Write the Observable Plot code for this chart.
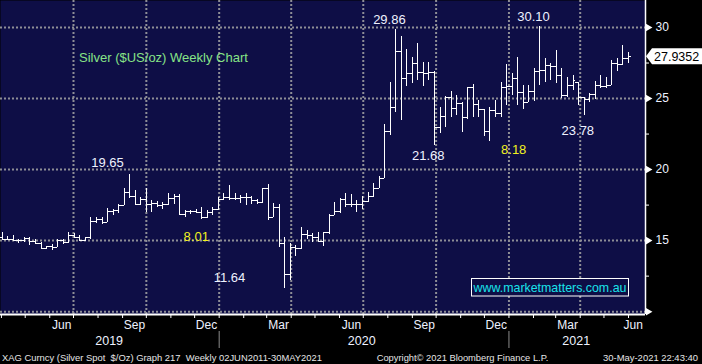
<!DOCTYPE html>
<html><head><meta charset="utf-8">
<script src="https://cdn.jsdelivr.net/npm/d3@7"></script>
<script src="https://cdn.jsdelivr.net/npm/@observablehq/plot@0.6"></script>
<style>
html,body{margin:0;padding:0;background:#000;}
#wrap{position:relative;width:702px;height:364px;overflow:hidden;background:#000;}
#wrap svg{display:block;}
</style></head><body><div id="wrap"></div>
<script>
// ---- data: weekly silver spot bars (week ending Friday) ----
const weeks = [
"2019-03-29","2019-04-05","2019-04-12","2019-04-19","2019-04-26","2019-05-03","2019-05-10","2019-05-17","2019-05-24","2019-05-31",
"2019-06-07","2019-06-14","2019-06-21","2019-06-28","2019-07-05","2019-07-12","2019-07-19","2019-07-26","2019-08-02","2019-08-09",
"2019-08-16","2019-08-23","2019-08-30","2019-09-06","2019-09-13","2019-09-20","2019-09-27","2019-10-04","2019-10-11","2019-10-18",
"2019-10-25","2019-11-01","2019-11-08","2019-11-15","2019-11-22","2019-11-29","2019-12-06","2019-12-13","2019-12-20","2019-12-27",
"2020-01-03","2020-01-10","2020-01-17","2020-01-24","2020-01-31","2020-02-07","2020-02-14","2020-02-21","2020-02-28","2020-03-06",
"2020-03-13","2020-03-20","2020-03-27","2020-04-03","2020-04-10","2020-04-17","2020-04-24","2020-05-01","2020-05-08","2020-05-15",
"2020-05-22","2020-05-29","2020-06-05","2020-06-12","2020-06-19","2020-06-26","2020-07-03","2020-07-10","2020-07-17","2020-07-24",
"2020-07-31","2020-08-07","2020-08-14","2020-08-21","2020-08-28","2020-09-04","2020-09-11","2020-09-18","2020-09-25","2020-10-02",
"2020-10-09","2020-10-16","2020-10-23","2020-10-30","2020-11-06","2020-11-13","2020-11-20","2020-11-27","2020-12-04","2020-12-11",
"2020-12-18","2020-12-25","2021-01-01","2021-01-08","2021-01-15","2021-01-22","2021-01-29","2021-02-05","2021-02-12","2021-02-19",
"2021-02-26","2021-03-05","2021-03-12","2021-03-19","2021-03-26","2021-04-02","2021-04-09","2021-04-16","2021-04-23","2021-04-30",
"2021-05-07","2021-05-14","2021-05-21","2021-05-28"];
const open = [
15.25,15.10,15.10,15.00,14.98,15.15,14.95,14.78,14.42,14.58,
14.55,14.98,14.85,15.33,15.25,15.00,15.20,16.35,16.47,16.30,
17.02,17.14,17.48,18.37,18.14,17.57,17.88,17.51,17.58,17.49,
17.52,17.93,18.11,16.81,17.03,17.02,16.98,16.60,17.00,17.16,
17.92,18.06,17.97,17.98,18.05,18.03,17.80,17.68,18.64,16.65,
17.30,14.80,12.65,14.50,14.45,15.45,15.35,15.23,14.97,15.55,
16.80,17.08,17.90,17.55,17.53,17.55,17.77,18.09,18.66,19.40,
22.70,24.40,28.30,26.40,26.75,27.45,26.80,26.75,26.85,22.95,
23.75,25.05,24.30,24.65,23.70,25.75,24.60,24.20,22.65,24.15,
23.95,25.80,25.85,26.40,25.40,24.75,25.50,26.90,26.95,27.35,
27.25,26.60,25.20,25.95,26.10,25.05,24.95,25.25,25.90,25.85,
25.95,27.45,27.40,27.85];
const high = [
15.55,15.30,15.35,15.10,15.20,15.20,15.05,14.90,14.62,14.70,
15.05,15.05,15.55,15.50,15.35,15.25,16.60,16.65,16.60,17.25,
17.20,17.55,18.65,19.65,18.50,18.05,18.65,17.80,17.75,17.70,
18.30,18.25,18.25,17.10,17.15,17.20,17.35,17.10,17.30,18.05,
18.30,18.90,18.30,18.20,18.30,18.10,17.90,18.65,18.94,17.60,
17.55,15.25,14.80,14.65,15.95,15.70,15.50,15.60,15.60,16.85,
17.70,17.95,18.35,18.25,17.85,18.10,18.40,19.03,19.50,23.20,
26.15,29.86,29.40,28.45,27.90,28.85,27.55,27.55,26.90,24.37,
25.14,25.50,25.20,24.70,25.80,26.00,24.86,24.25,24.40,24.86,
26.10,27.40,26.76,27.90,25.90,25.90,27.10,30.10,27.80,27.45,
28.40,27.10,26.50,26.60,26.15,25.10,25.35,26.20,26.60,26.50,
27.70,27.80,28.70,28.27];
const low = [
15.00,15.02,14.95,14.80,14.85,14.65,14.75,14.40,14.35,14.30,
14.50,14.70,14.80,15.15,14.95,14.95,15.10,16.20,16.10,16.25,
16.80,16.90,17.45,17.95,17.45,17.50,16.97,16.97,17.30,17.20,
17.45,17.55,16.75,16.65,16.85,16.90,16.50,16.55,16.80,17.15,
17.80,17.80,17.80,17.60,17.45,17.55,17.55,17.60,16.45,16.60,
14.50,11.64,12.20,13.90,14.40,15.10,14.90,14.85,14.60,15.45,
16.76,16.92,17.35,17.35,17.00,17.16,17.70,18.05,18.65,19.35,
22.40,24.00,23.45,25.85,26.05,26.25,25.87,26.25,21.68,22.54,
22.96,23.66,23.80,22.60,23.50,23.66,23.70,22.30,22.00,23.66,
23.70,24.50,25.20,24.50,24.20,24.70,24.80,25.90,26.10,26.30,
26.05,25.00,25.10,25.55,24.50,23.78,24.75,24.90,25.70,25.70,
25.90,26.90,27.30,27.45];
const close = [
15.10,15.10,15.00,14.98,15.15,14.95,14.78,14.42,14.58,14.55,
14.98,14.85,15.33,15.25,15.00,15.20,16.35,16.47,16.30,17.02,
17.14,17.48,18.37,18.14,17.57,17.88,17.51,17.58,17.49,17.52,
17.93,18.11,16.81,17.03,17.02,16.98,16.60,17.00,17.16,17.92,
18.06,17.97,17.98,18.05,18.03,17.80,17.68,18.64,16.65,17.30,
14.80,12.65,14.50,14.45,15.45,15.35,15.23,14.97,15.55,16.80,
17.08,17.90,17.55,17.53,17.55,17.77,18.09,18.66,19.40,22.70,
24.40,28.30,26.40,26.75,27.45,26.80,26.75,26.85,22.95,23.75,
25.05,24.30,24.65,23.70,25.75,24.60,24.20,22.65,24.15,23.95,
25.80,25.85,26.40,25.40,24.75,25.50,26.90,26.95,27.35,27.25,
26.60,25.20,25.95,26.30,25.05,24.95,25.25,25.90,25.85,25.95,
27.45,27.40,27.85,27.9352];
const lastPrice = 27.9352;

// ---- axis ticks and labels ----
const priceGrid = [10, 15, 20, 25, 30];
const priceLabels = ["15", "20", "25", "30"];
const priceMinor = [12.5, 17.5, 22.5, 27.5];
const gridDates = ["2019-07-01","2019-10-01","2020-01-01","2020-04-01","2020-07-01","2020-10-01","2021-01-01","2021-04-01"];
const monthLabelDates = ["2019-06-16","2019-09-16","2019-12-16","2020-03-16","2020-06-16","2020-09-16","2020-12-16","2021-03-16","2021-06-07"];
const monthLabelText = ["Jun","Sep","Dec","Mar","Jun","Sep","Dec","Mar","Jun"];
const yearLabelDates = ["2019-08-15","2020-06-29","2021-03-27"];
const yearLabelText = ["2019","2020","2021"];
const yearBreaks = ["2020-01-01","2021-01-01"];

// ---- annotations ----
const titleText = "Silver ($US/oz) Weekly Chart";
const titleDate = "2019-07-08", titlePrice = 27.9;
const noteText  = ["19.65","8.01","11.64","29.86","21.68","8.18","30.10","23.78"];
const noteDates = ["2019-08-13","2019-12-03","2020-01-14","2020-08-03","2020-09-21","2021-01-07","2021-02-01","2021-03-29"];
const notePrice = [20.5, 15.29, 12.4, 30.56, 20.99, 21.41, 30.77, 22.75];
const noteKind  = ["white","yellow","white","white","white","yellow","white","white"];

// ---- build ----
const NAVY = "#0e0e46", GRID = "#8e8e96", TXT = "#eef2ff";
const FONT = "Liberation Sans, Arial, sans-serif";
const W = 702, H = 350, plotRight = 645, plotBottom = 314;
const yMin = 9.8, yMax = 31.9;
const pxPerUnit = plotBottom / (yMax - yMin);
const u = px => px / pxPerUnit;
const cal = d3.scaleUtc().domain([new Date("2019-07-01"), new Date("2021-06-01")]).range([73, 628]);
const xEnd = cal.invert(plotRight);
const xMinorEnd = cal.invert(plotRight + 4);

const bars = weeks.map((w, i) => ({date: new Date(w), open: open[i], high: high[i], low: low[i], close: close[i]}));
const shown = d => d3.utcDay.offset(d.date, 4); // Bloomberg draws each week's bar just after its Friday
const monthTicks = d3.utcMonth.range(new Date("2019-04-01"), new Date("2021-06-02"));
const monthLabels = monthLabelDates.map((d, i) => ({date: new Date(d), text: monthLabelText[i]}));
const yearLabels = yearLabelDates.map((d, i) => ({date: new Date(d), text: yearLabelText[i]}));
const notes = noteText.map((t, i) => ({text: t, date: new Date(noteDates[i]), price: notePrice[i], kind: noteKind[i]}));
const noteColor = {white: TXT, yellow: "#f2f21e"};

const chart = Plot.plot({
  width: W, height: H,
  marginLeft: 0, marginRight: W - plotRight, marginTop: 0, marginBottom: H - plotBottom,
  style: {background: "transparent", fontFamily: FONT, overflow: "visible"},
  x: {type: "utc", domain: cal.domain(), range: cal.range(), axis: null},
  y: {domain: [yMin, yMax], axis: null},
  marks: [
    Plot.frame({fill: NAVY, stroke: null}),
    Plot.ruleY(priceGrid, {stroke: GRID, strokeWidth: 2, strokeDasharray: "2,2"}),
    Plot.ruleX(gridDates.map(d => new Date(d)), {stroke: GRID, strokeWidth: 2, strokeDasharray: "2,2"}),
    // OHLC bars
    Plot.ruleX(bars, {x: shown, y1: "low", y2: "high", stroke: "white", strokeWidth: 1, shapeRendering: "crispEdges"}),
    Plot.ruleY(bars, {x1: d => d3.utcHour.offset(shown(d), -84), x2: shown, y: "open", stroke: "white", strokeWidth: 1, shapeRendering: "crispEdges"}),
    Plot.ruleY(bars, {x1: shown, x2: d => d3.utcHour.offset(shown(d), 84), y: "close", stroke: "white", strokeWidth: 1, shapeRendering: "crispEdges"}),
    // axes
    Plot.ruleY([yMin], {stroke: "white", strokeWidth: 2}),
    Plot.ruleX([xEnd], {stroke: "white", strokeWidth: 1.5}),
    Plot.ruleX(monthTicks, {y1: yMin, y2: yMin - u(4), stroke: "white", strokeWidth: 1}),
    Plot.ruleX(yearBreaks.map(d => new Date(d)), {y1: yMin - u(17), y2: yMin - u(34), stroke: "#8c8c8c", strokeWidth: 1}),
    Plot.text(monthLabels, {x: "date", y: () => yMin, dy: 11, text: "text", fill: TXT, fontSize: 12}),
    Plot.text(yearLabels, {x: "date", y: () => yMin, dy: 26, text: "text", fill: TXT, fontSize: 12.5}),
    Plot.ruleY(priceMinor, {x1: () => xEnd, x2: () => xMinorEnd, stroke: "white", strokeWidth: 1}),
    Plot.dot(priceGrid, {x: () => xEnd, y: d => d, symbol: "triangle", rotate: 90, r: 2.8, fill: "white", stroke: null, dx: 2.6}),
    Plot.text(priceLabels, {x: () => xEnd, y: d => +d, text: d => d, dx: 10, textAnchor: "start", fill: TXT, fontSize: 12}),
    // annotations
    Plot.text([titleText], {x: () => new Date(titleDate), y: () => titlePrice, text: d => d, fill: "#86e486", textAnchor: "start", fontSize: 13}),
    Plot.text(notes, {x: "date", y: "price", text: "text", fill: d => noteColor[d.kind], textAnchor: "middle", fontSize: 13})
  ]
});

const svg = d3.select(chart);
// last price tag
const ys = chart.scale("y").apply(lastPrice);
const g = svg.append("g").attr("text-anchor", "start");
g.append("path").attr("d", `M646,${ys} L652,${ys - 8} H702 V${ys + 8} H652 Z`).attr("fill", "white");
g.append("text").attr("x", 654).attr("y", ys).attr("dy", "0.36em").attr("font-size", 12.5)
  .attr("text-anchor", "start").attr("font-family", FONT).attr("fill", "#000").text(lastPrice.toFixed(4));
// website box
const wm = svg.append("g");
wm.append("rect").attr("x", 471.5).attr("y", 278.5).attr("width", 157).attr("height", 17.5)
  .attr("fill", NAVY).attr("stroke", "white").attr("stroke-width", 1);
wm.append("text").attr("x", 550).attr("y", 287.5).attr("dy", "0.36em").attr("text-anchor", "middle")
  .attr("font-size", 12.4).attr("font-family", FONT).attr("fill", "#19e3ea").text("www.marketmatters.com.au");

document.getElementById("wrap").appendChild(chart);

// footer
const footer = d3.select("#wrap").append("svg").attr("width", W).attr("height", 14)
  .style("font-family", FONT).style("font-size", "9.5px");
const foot = [
  {x: 2, len: 320, t: "XAG Curncy (Silver Spot  $/Oz) Graph 217  Weekly 02JUN2011-30MAY2021"},
  {x: 376.7, len: 171.6, t: "Copyright\u00A9 2021 Bloomberg Finance L.P."},
  {x: 603, len: 95, t: "30-May-2021 22:43:40"}
];
footer.selectAll("text").data(foot).join("text")
  .attr("x", d => d.x).attr("y", 10.5).attr("fill", "#e6e6e6")
  .attr("textLength", d => d.len).attr("lengthAdjust", "spacingAndGlyphs")
  .style("white-space", "pre").text(d => d.t);
</script>
</body></html>
